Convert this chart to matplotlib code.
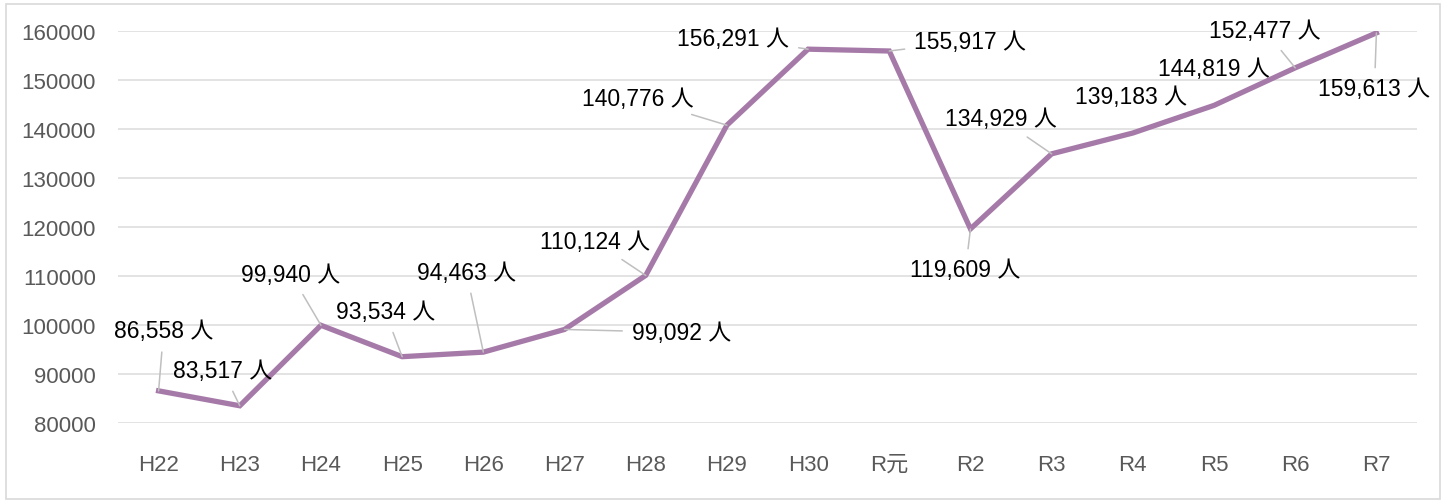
import matplotlib
matplotlib.use("Agg")
import matplotlib.pyplot as plt
from matplotlib.patches import Rectangle

plt.rcParams['font.family'] = ['Liberation Sans', 'Noto Sans CJK JP', 'DejaVu Sans']

categories = ["H22", "H23", "H24", "H25", "H26", "H27", "H28", "H29", "H30",
              "R元", "R2", "R3", "R4", "R5", "R6", "R7"]
values = [86558, 83517, 99940, 93534, 94463, 99092, 110124, 140776, 156291,
          155917, 119609, 134929, 139183, 144819, 152477, 159613]

# label offsets in pixels (dx, dy) and whether a leader line is drawn
label_offsets = [(5, 60), (-17, 35), (-30, 51), (-17, 45), (-17, 80), (117, -3),
                 (-51, 34), (-89, 27), (-75, 11), (81, 10), (-5, -41), (-51, 35),
                 (-2, 37), (0, 37), (-30, 37), (-2, -56)]
leaders = [True, True, True, True, True, True, True, True, True, True, True, True,
           False, False, True, True]

W, H = 1447, 502
fig = plt.figure(figsize=(W / 100, H / 100), dpi=100)
ax = fig.add_axes([118 / W, 1 - 424 / H, (1417 - 118) / W, (424 - 32) / H])

x = list(range(len(categories)))
ax.plot(x, values, color='#a67aa8', lw=3.8, solid_joinstyle='miter', zorder=3)

ax.set_xlim(-0.5, len(categories) - 0.5)
ax.set_ylim(80000, 160000)
ax.set_yticks(range(80000, 160001, 10000))
ax.set_yticklabels([str(v) for v in range(80000, 160001, 10000)])
ax.set_xticks(x)
ax.set_xticklabels(categories)
ax.tick_params(axis='y', length=0, pad=16, labelsize=16, labelcolor='#595959')
ax.tick_params(axis='x', length=0, pad=22, labelsize=16, labelcolor='#595959')
ax.grid(axis='y', color='#e0e0e0', lw=1.3, zorder=0)
for s in ax.spines.values():
    s.set_visible(False)

for xi, v, (dx, dy), ld in zip(x, values, label_offsets, leaders):
    kw = {}
    if ld:
        kw['arrowprops'] = dict(arrowstyle='-', color='#bfbfbf', lw=1.1,
                                shrinkA=5, shrinkB=0)
    ax.annotate(f"{v:,} 人", xy=(xi, v), xytext=(dx, dy),
                textcoords='offset pixels', ha='center', va='center',
                fontsize=16.5, color='#000000', zorder=4, **kw)

fig.patches.append(Rectangle((6 / W, 2 / H), (1440 - 6) / W, (497 - 2) / H,
                             transform=fig.transFigure, fill=False,
                             edgecolor='#d9d9d9', lw=1.2))

fig.savefig("out.png", dpi=100, facecolor='white')
